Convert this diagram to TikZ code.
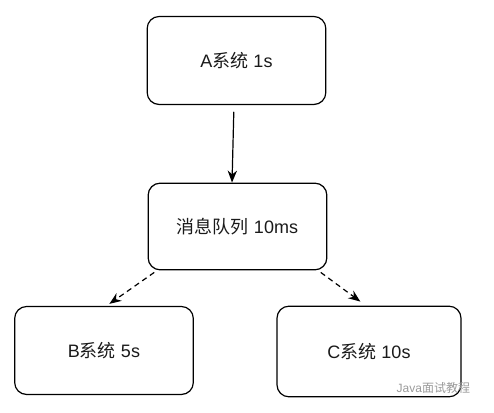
\documentclass[tikz,border=0pt]{standalone}
\usepackage{fontspec}
\setmainfont{Liberation Sans}
\newfontfamily\cjk{Noto Sans CJK SC}
\usetikzlibrary{arrows.meta, positioning}
\definecolor{wmgray}{HTML}{9A9A9A}
\definecolor{txtblack}{HTML}{1A1A1A}

\begin{document}
\begin{tikzpicture}[x=0.75pt, y=-0.75pt,
  every node/.style={font=\fontsize{13.5}{15}\selectfont, text=txtblack},
  sysbox/.style={rectangle, draw, rounded corners=9pt, line width=0.9pt, minimum width=134pt, minimum height=66pt, align=center},
  flow/.style={-{Stealth[length=9pt, width=7pt]}, line width=0.9pt},
  async/.style={flow, dash pattern=on 4pt off 3pt},
]
\useasboundingbox (0,0) rectangle (494,413);
\node[sysbox] (asys) at (236.5, 60.5) {A{\cjk 系统} 1s};
\node[sysbox, minimum height=65pt] (queue) at (237.5, 226.5) {{\cjk 消息队列} 10ms};
\node[sysbox] (bsys) at (104, 350.5) {B{\cjk 系统} 5s};
\node[sysbox, minimum width=138pt, minimum height=68pt] (csys) at (369, 351.5) {C{\cjk 系统} 10s};

% sync call
\draw[flow, shorten <=5pt] ([xshift=-1.9pt]asys.south) -- ([xshift=-4.1pt]queue.north);

% async consumers
\draw[async] ([xshift=5pt, yshift=-1.5pt]queue.south west) -- ([xshift=4pt, yshift=1.5pt]bsys.north);
\draw[async] ([xshift=-5pt, yshift=-1.5pt]queue.south east) -- ([xshift=-6.5pt, yshift=3pt]csys.north);

% watermark
\node[text=wmgray, font=\fontsize{9}{10}\selectfont, anchor=west] (mark) at (392, 388) {Java{\cjk 面试教程}};

\end{tikzpicture}
\end{document}
